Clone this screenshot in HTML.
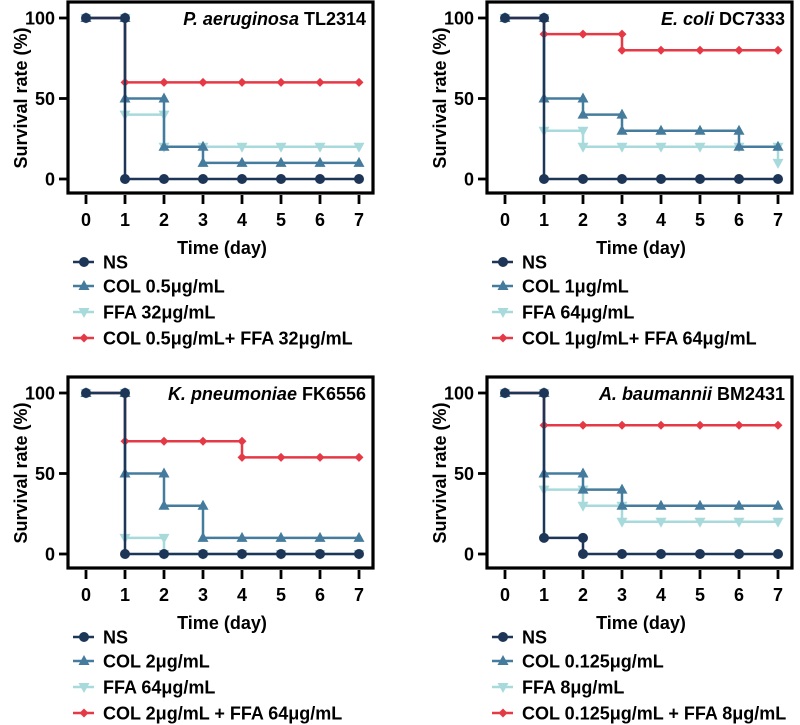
<!DOCTYPE html>
<html><head><meta charset="utf-8"><style>
body{margin:0;background:#fff}
svg{display:block;font-family:"Liberation Sans",Arial,sans-serif;font-weight:bold}
</style></head><body>
<svg id="c" width="800" height="725" viewBox="0 0 800 725"></svg>
<script>
const days=[0,1,2,3,4,5,6,7];
const yTicks=[0,50,100];
const seriesNames=["NS","COL","FFA","COMBO"];
const colors={NS:"#1d3557",COL:"#457b9d",FFA:"#a8dadc",COMBO:"#e63946"};
const titlesItalic=["P. aeruginosa","E. coli","K. pneumoniae","A. baumannii"];
const titlesPlain=[" TL2314"," DC7333"," FK6556"," BM2431"];
const legendLabels=[
 ["NS","COL 0.5μg/mL","FFA 32μg/mL","COL 0.5μg/mL+ FFA 32μg/mL"],
 ["NS","COL 1μg/mL","FFA 64μg/mL","COL 1μg/mL+ FFA 64μg/mL"],
 ["NS","COL 2μg/mL","FFA 64μg/mL","COL 2μg/mL + FFA 64μg/mL"],
 ["NS","COL 0.125μg/mL","FFA 8μg/mL","COL 0.125μg/mL + FFA 8μg/mL"]];
const nsP1=[100,0,0,0,0,0,0,0], colP1=[100,50,20,10,10,10,10,10], ffaP1=[100,40,20,20,20,20,20,20], comboP1=[100,60,60,60,60,60,60,60];
const nsP2=[100,0,0,0,0,0,0,0], colP2=[100,50,40,30,30,30,20,20], ffaP2=[100,30,20,20,20,20,20,10], comboP2=[100,90,90,80,80,80,80,80];
const nsP3=[100,0,0,0,0,0,0,0], colP3=[100,50,30,10,10,10,10,10], ffaP3=[100,10,0,0,0,0,0,0], comboP3=[100,70,70,70,60,60,60,60];
const nsP4=[100,10,0,0,0,0,0,0], colP4=[100,50,40,30,30,30,30,30], ffaP4=[100,40,30,20,20,20,20,20], comboP4=[100,80,80,80,80,80,80,80];
const panelData=[[nsP1,colP1,ffaP1,comboP1],[nsP2,colP2,ffaP2,comboP2],[nsP3,colP3,ffaP3,comboP3],[nsP4,colP4,ffaP4,comboP4]];

const svg=document.getElementById('c');
const NS='http://www.w3.org/2000/svg';
function mk(tag,attrs,parent){const e=document.createElementNS(NS,tag);for(const k in attrs)e.setAttribute(k,attrs[k]);(parent||svg).appendChild(e);return e;}
function marker(g,name,x,y){
  const c=colors[name];let m;
  if(name==="NS")m=mk('circle',{cx:x,cy:y,r:5,fill:c},g);
  else if(name==="COL")m=mk('polygon',{points:`${x},${y-6} ${x-5.5},${y+4} ${x+5.5},${y+4}`,fill:c},g);
  else if(name==="FFA")m=mk('polygon',{points:`${x},${y+6} ${x-5.5},${y-4} ${x+5.5},${y-4}`,fill:c},g);
  else m=mk('polygon',{points:`${x},${y-4.5} ${x+4.5},${y} ${x},${y+4.5} ${x-4.5},${y}`,fill:c},g);
  
  
}
const offsets=[[0,0],[419,0],[0,375],[419,375]];
offsets.forEach(([ox,oy],p)=>{
  const g=mk('g',{});
  
  
  const X=d=>ox+86+d*39, Y=v=>oy+179-v*1.61;
  const fr=mk('rect',{x:ox+68,y:oy+2,width:305,height:191,fill:'none',stroke:'#000','stroke-width':3.2},g);
  
  yTicks.forEach(t=>{
    mk('line',{x1:ox+59,x2:ox+68,y1:Y(t),y2:Y(t),stroke:'#000','stroke-width':2.8},g);
    const tx=mk('text',{x:ox+55,y:Y(t)+6.5,'text-anchor':'end','font-size':18},g);tx.textContent=t;
    
  });
  days.forEach(d=>{
    mk('line',{x1:X(d),x2:X(d),y1:oy+195,y2:oy+204,stroke:'#000','stroke-width':2.8},g);
    const tx=mk('text',{x:X(d),y:oy+226,'text-anchor':'middle','font-size':18},g);tx.textContent=d;
    
  });
  const xt=mk('text',{x:ox+222,y:oy+254,'text-anchor':'middle','font-size':18},g);xt.textContent='Time (day)';
  
  const yt=mk('text',{x:0,y:0,'text-anchor':'middle','font-size':18,transform:`translate(${ox+27},${oy+98}) rotate(-90)`},g);yt.textContent='Survival rate (%)';
  
  const tt=mk('text',{x:ox+366,y:oy+25,'text-anchor':'end','font-size':18},g);
  
  const ti=mk('tspan',{'font-style':'italic'},tt);ti.textContent=titlesItalic[p];
  const tp=mk('tspan',{},tt);tp.textContent=titlesPlain[p];
  [2,1,3,0].forEach(si=>{
    const name=seriesNames[si],v=panelData[p][si],c=colors[name];
    const sg=mk('g',{},g);
    
    let d=`M${X(0)},${Y(v[0])}`;
    for(let i=1;i<days.length;i++){d+=` L${X(days[i])},${Y(v[i-1])} L${X(days[i])},${Y(v[i])}`;}
    mk('path',{d,fill:'none',stroke:c,'stroke-width':2.5},sg);
    marker(sg,name,X(0),Y(v[0]));
    for(let i=1;i<days.length;i++){
      if(v[i]!==v[i-1])marker(sg,name,X(days[i]),Y(v[i-1]));
      marker(sg,name,X(days[i]),Y(v[i]));
    }
  });
  const rows=[262,286,312,338];
  seriesNames.forEach((name,i)=>{
    const lg=mk('g',{},g);
    
    const y=oy+rows[i];
    mk('line',{x1:ox+73,x2:ox+94,y1:y,y2:y,stroke:colors[name],'stroke-width':2.5},lg);
    marker(lg,name,ox+84,y);
    const t=mk('text',{x:ox+103,y:y+6.5,'font-size':18},lg);t.textContent=legendLabels[p][i];
  });
});
</script>
</body></html>
